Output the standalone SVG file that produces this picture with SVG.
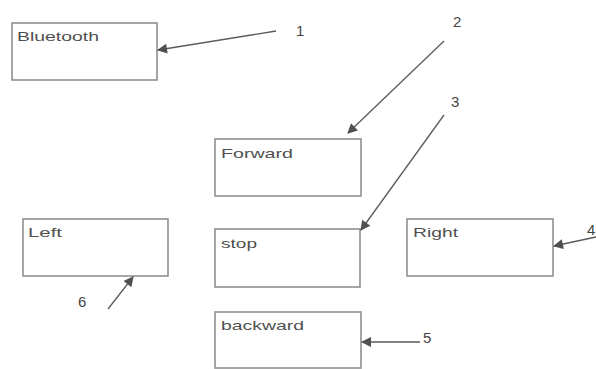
<svg xmlns="http://www.w3.org/2000/svg" width="596" height="369" viewBox="0 0 596 369">
<style>
.box{fill:#fff;stroke:#8f8f8f;stroke-width:1.6}
.lbl{font-family:"Liberation Sans",Arial,sans-serif;font-size:13.5px;fill:#505050}
.num{font-family:"Liberation Sans",Arial,sans-serif;font-size:15px;fill:#444}
.conn{stroke:#5a5a5a;stroke-width:1.3;fill:none;marker-end:url(#ah)}
</style>
<defs>
<marker id="ah" viewBox="0 0 10 10" refX="9" refY="5" markerWidth="13" markerHeight="10" markerUnits="userSpaceOnUse" orient="auto">
<path d="M0,0 L10,5 L0,10 z" fill="#505050"/>
</marker>
</defs>
<rect width="596" height="369" fill="#fff"/>
<g id="bluetooth"><rect class="box" x="12" y="23" width="145" height="57"/><text class="lbl" x="17" y="41" textLength="82" lengthAdjust="spacingAndGlyphs">Bluetooth</text></g>
<g id="forward"><rect class="box" x="215" y="139" width="146" height="57"/><text class="lbl" x="221" y="158" textLength="72" lengthAdjust="spacingAndGlyphs">Forward</text></g>
<g id="left"><rect class="box" x="23" y="219" width="145" height="57"/><text class="lbl" x="28" y="237" textLength="34" lengthAdjust="spacingAndGlyphs">Left</text></g>
<g id="stop"><rect class="box" x="215" y="229" width="145" height="58"/><text class="lbl" x="221" y="248" textLength="36" lengthAdjust="spacingAndGlyphs">stop</text></g>
<g id="right"><rect class="box" x="407" y="219" width="146" height="57"/><text class="lbl" x="413" y="237" textLength="45" lengthAdjust="spacingAndGlyphs">Right</text></g>
<g id="backward"><rect class="box" x="215" y="312" width="146" height="56"/><text class="lbl" x="221" y="330" textLength="83" lengthAdjust="spacingAndGlyphs">backward</text></g>
<g id="connectors">
<path class="conn" d="M276,31 L158,50"/>
<path class="conn" d="M444,41 L348,133"/>
<path class="conn" d="M444,115 L361,230"/>
<path class="conn" d="M596,237 L554,246"/>
<path class="conn" d="M420,342 L362,342"/>
<path class="conn" d="M108,309 L133,277"/>
</g>
<g id="labels">
<text class="num" x="296" y="36">1</text>
<text class="num" x="453" y="27">2</text>
<text class="num" x="451" y="107">3</text>
<text class="num" x="587" y="235">4</text>
<text class="num" x="423" y="343">5</text>
<text class="num" x="78" y="307">6</text>
</g>
</svg>
